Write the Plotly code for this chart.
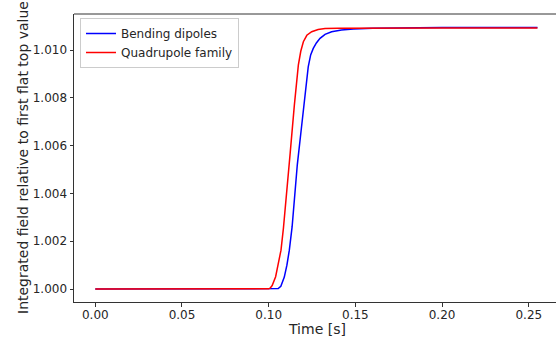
import plotly.graph_objects as go

# Bending dipoles (blue)
dip_t = [0.000, 0.050, 0.100, 0.1040, 0.1055, 0.1070, 0.1090, 0.1105, 0.1119, 0.1135,
         0.1148, 0.1165, 0.1185, 0.1204, 0.1216, 0.1228, 0.1242, 0.1257, 0.1275, 0.1296,
         0.1325, 0.1363, 0.1420, 0.1488, 0.160, 0.180, 0.200, 0.230, 0.255]
dip_v = [1.00000, 1.00000, 1.00000, 1.00000, 1.00002, 1.00012, 1.00050, 1.00100, 1.00163, 1.00260,
         1.00372, 1.00520, 1.00650, 1.00770, 1.00855, 1.00930, 1.00980, 1.01007, 1.01030, 1.01049,
         1.01066, 1.01077, 1.01084, 1.01088, 1.01091, 1.01093, 1.01094, 1.01094, 1.01094]

# Quadrupole family (red)
quad_t = [0.000, 0.050, 0.098, 0.1000, 0.1008, 0.1020, 0.1040, 0.1055, 0.1071, 0.1085,
          0.1100, 0.1124, 0.1148, 0.1160, 0.1171, 0.1185, 0.1200, 0.1220, 0.1248, 0.1285,
          0.1325, 0.140, 0.160, 0.200, 0.255]
quad_v = [1.00000, 1.00000, 1.00000, 1.00001, 1.00004, 1.00015, 1.00052, 1.00100, 1.00163, 1.00255,
          1.00365, 1.00570, 1.00770, 1.00860, 1.00937, 1.00995, 1.01035, 1.01062, 1.01077, 1.01086,
          1.01090, 1.01091, 1.01092, 1.01092, 1.01092]

x_ticks = [0.00, 0.05, 0.10, 0.15, 0.20, 0.25]
y_ticks = [1.000, 1.002, 1.004, 1.006, 1.008, 1.010]

FONT = "DejaVu Sans"
W, H = 556, 341
ML, MT, MR, MB = 74, 14, 0, 39

fig = go.Figure()
fig.add_trace(go.Scatter(x=dip_t, y=dip_v, mode="lines", name="Bending dipoles",
                         line=dict(color="#0000ff", width=1.5)))
fig.add_trace(go.Scatter(x=quad_t, y=quad_v, mode="lines", name="Quadrupole family",
                         line=dict(color="#ff0000", width=1.5)))

axis_common = dict(showgrid=False, zeroline=False, showline=True, linecolor="#333333",
                   linewidth=1, ticks="outside", ticklen=3.5, tickcolor="#333333", automargin=False,
                   tickfont=dict(family=FONT, size=12, color="#262626"))
fig.update_xaxes(range=[-0.01228, 0.26569], tickvals=x_ticks, ticklabelstandoff=-2,
                 ticktext=[f"{v:.2f}" for v in x_ticks], mirror=False, **axis_common)
fig.update_yaxes(range=[0.99946, 1.01151], tickvals=y_ticks,
                 ticktext=[f"{v:.3f}" for v in y_ticks], mirror=False, **axis_common)

# top spine
fig.add_shape(type="line", xref="paper", yref="paper", x0=0, x1=1, y0=1, y1=1,
              line=dict(color="#333333", width=1))

pw = W - ML - MR
ph = H - MT - MB
fig.add_annotation(text="Time [s]", xref="paper", yref="paper",
                   x=(317 - ML) / pw, y=-(329 - (H - MB)) / ph,
                   showarrow=False, font=dict(family=FONT, size=14, color="#262626"),
                   xanchor="center", yanchor="middle")
fig.add_annotation(text="Integrated field relative to first flat top value", xref="paper", yref="paper",
                   x=(23 - ML) / pw, y=0.5, textangle=-90,
                   showarrow=False, font=dict(family=FONT, size=14, color="#262626"),
                   xanchor="center", yanchor="middle")

fig.update_layout(
    template="none",
    width=W, height=H,
    margin=dict(l=ML, r=MR, t=MT, b=MB, autoexpand=False),
    paper_bgcolor="white", plot_bgcolor="white",
    showlegend=True,
    legend=dict(x=(80 - ML) / pw, y=1 - (18 - MT) / ph, xanchor="left", yanchor="top",
                bgcolor="white", bordercolor="#cccccc", borderwidth=1,
                font=dict(family=FONT, size=12, color="#262626"),
                tracegroupgap=0, itemwidth=30),
)

fig.write_html("out.html", config={"displayModeBar": False},
               post_script="document.body.style.margin='0';document.body.style.overflow='hidden';")
